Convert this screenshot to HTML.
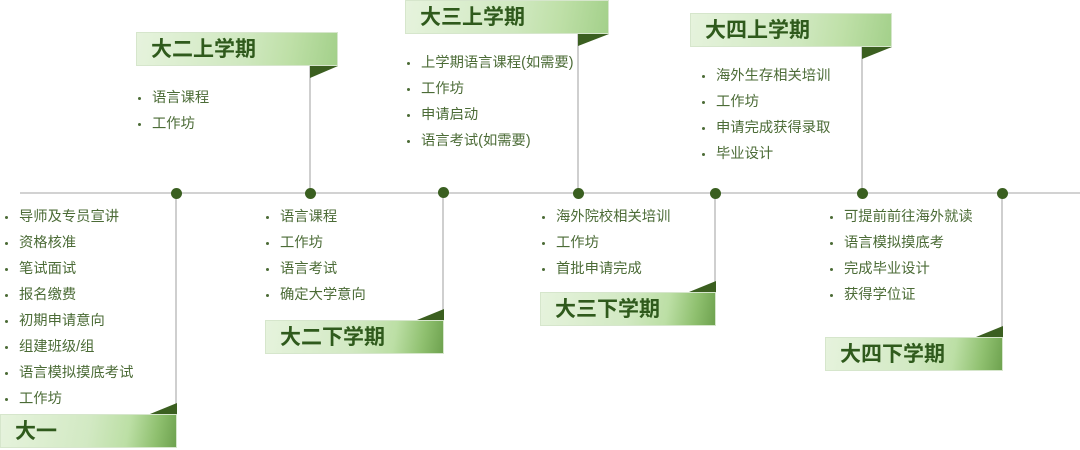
<!DOCTYPE html>
<html><head><meta charset="utf-8"><style>
body{margin:0;width:1080px;height:450px;background:#fff;position:relative;overflow:hidden;font-family:"Liberation Sans","Noto Sans CJK SC",sans-serif;}
.h{position:absolute;height:34px;box-sizing:border-box;font-weight:bold;font-size:21px;color:#2f5a1c;line-height:34px;padding-left:14px;border:1px solid #d6e6cc;}
.top{background:linear-gradient(100deg,#e6f3dd 0%,#cfe8bf 55%,#bfe0a8 75%,#a3d08a 100%);}
.bot{background:linear-gradient(100deg,#e6f3dd 0%,#d2e9c3 50%,#bcdfa5 72%,#8fc06f 88%,#6ea24f 100%);}
.v{position:absolute;width:2px;background:#cfcfcf;}
.d{position:absolute;width:11px;height:11px;border-radius:50%;background:#3a5f20;}
ul{position:absolute;margin:0;padding:0;list-style:none;font-size:14.3px;color:#4b6b36;}
li{height:26px;line-height:26px;position:relative;padding-left:14px;}
li:before{content:"";position:absolute;left:0;top:12px;width:3px;height:3px;background:#4b6b36;border-radius:50%;}
svg{position:absolute;left:0;top:0;}
</style></head><body>
<div style="position:absolute;left:20px;top:192px;width:1060px;height:2px;background:#d2d2d2"></div>
<div class="v" style="left:309px;top:66px;height:127px"></div>
<div class="v" style="left:577px;top:34px;height:159px"></div>
<div class="v" style="left:861px;top:47px;height:146px"></div>
<div class="v" style="left:175px;top:193px;height:221px"></div>
<div class="v" style="left:442px;top:193px;height:127px"></div>
<div class="v" style="left:714px;top:193px;height:99px"></div>
<div class="v" style="left:1001px;top:193px;height:144px"></div>
<div class="d" style="left:171px;top:188px"></div>
<div class="d" style="left:305px;top:188px"></div>
<div class="d" style="left:438px;top:187px"></div>
<div class="d" style="left:573px;top:188px"></div>
<div class="d" style="left:710px;top:188px"></div>
<div class="d" style="left:857px;top:188px"></div>
<div class="d" style="left:997px;top:188px"></div>

<div class="h top" style="left:136px;top:32px;width:202px">大二上学期</div>
<div class="h top" style="left:405px;top:0;width:204px">大三上学期</div>
<div class="h top" style="left:690px;top:13px;width:202px">大四上学期</div>
<div class="h bot" style="left:0;top:414px;width:177px">大一</div>
<div class="h bot" style="left:265px;top:320px;width:179px">大二下学期</div>
<div class="h bot" style="left:540px;top:292px;width:176px">大三下学期</div>
<div class="h bot" style="left:825px;top:337px;width:178px">大四下学期</div>

<svg width="1080" height="450">
<g fill="#3b5f20">
<polygon points="310,66 338,66 310,78"/>
<polygon points="578,34 609,34 578,46"/>
<polygon points="862,47 892,47 862,59"/>
<polygon points="150,414 177,414 177,403"/>
<polygon points="417,320 444,320 444,309"/>
<polygon points="689,292 716,292 716,281"/>
<polygon points="976,337 1003,337 1003,326"/>
</g></svg>

<ul style="left:138px;top:85px"><li>语言课程</li><li>工作坊</li></ul>
<ul style="left:407px;top:50px"><li>上学期语言课程(如需要)</li><li>工作坊</li><li>申请启动</li><li>语言考试(如需要)</li></ul>
<ul style="left:702px;top:63px"><li>海外生存相关培训</li><li>工作坊</li><li>申请完成获得录取</li><li>毕业设计</li></ul>
<ul style="left:5px;top:204px"><li>导师及专员宣讲</li><li>资格核准</li><li>笔试面试</li><li>报名缴费</li><li>初期申请意向</li><li>组建班级/组</li><li>语言模拟摸底考试</li><li>工作坊</li></ul>
<ul style="left:266px;top:204px"><li>语言课程</li><li>工作坊</li><li>语言考试</li><li>确定大学意向</li></ul>
<ul style="left:542px;top:204px"><li>海外院校相关培训</li><li>工作坊</li><li>首批申请完成</li></ul>
<ul style="left:830px;top:204px"><li>可提前前往海外就读</li><li>语言模拟摸底考</li><li>完成毕业设计</li><li>获得学位证</li></ul>
</body></html>
